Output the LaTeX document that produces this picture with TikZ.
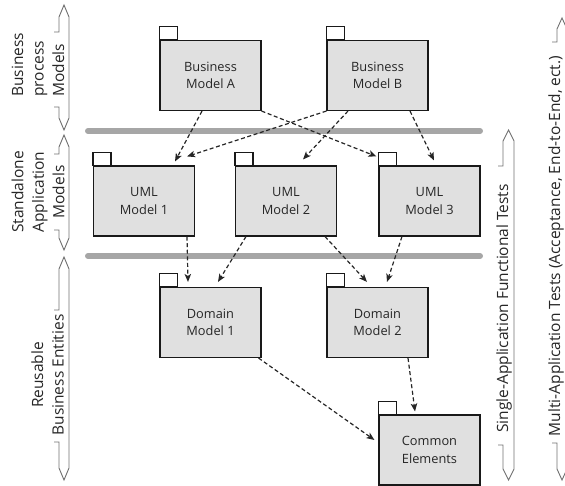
\documentclass[tikz,border=0pt]{standalone}
\usepackage{fontspec}
\setmainfont{Open Sans}
\usetikzlibrary{arrows.meta,calc}

\definecolor{boxfill}{HTML}{E0E0E0}
\definecolor{barcol}{HTML}{A6A6A6}
\definecolor{inkgray}{HTML}{262626}
\definecolor{lanecol}{HTML}{707070}

\begin{document}
\begin{tikzpicture}[x=1pt,y=-1pt,
  pkg/.style={draw=black!90, line width=1.1pt, fill=boxfill,
    minimum width=101pt, minimum height=70pt, inner sep=0pt, align=center,
    font=\fontsize{12.8}{17.5}\selectfont, text=inkgray},
  pkgtab/.style={draw=black!90, line width=1.1pt, fill=white},
  dep/.style={draw=black!85, line width=1.2pt, dash pattern=on 4pt off 2.6pt,
    -{Stealth[length=8pt,width=6.5pt,inset=2pt]}},
  sepbar/.style={draw=barcol, line width=6pt, line cap=round},
  lane/.style={draw=lanecol, line width=0.9pt, line join=miter},
  lanetext/.style={font=\fontsize{15.5}{20.5}\selectfont, text=inkgray,
    rotate=90, inner sep=0pt}
]
\useasboundingbox (0,0) rectangle (565,486);

% layer separators
\draw[sepbar] (88,131) -- (480,131);
\draw[sepbar] (88,256) -- (480,256);

% packages
\node[pkg] (ba) at (210.5,75.5) {Business\\Model A};
\node[pkg] (bb) at (377.5,75.5) {Business\\Model B};
\node[pkg] (u1) at (144,201)    {UML\\Model 1};
\node[pkg] (u2) at (286,201)    {UML\\Model 2};
\node[pkg] (u3) at (429.5,201)  {UML\\Model 3};
\node[pkg] (d1) at (210.5,322.5) {Domain\\Model 1};
\node[pkg] (d2) at (377.5,322.5) {Domain\\Model 2};
\node[pkg] (ce) at (429.5,450)  {Common\\Elements};
\foreach \n in {ba,bb,u1,u2,u3,d1,d2,ce}
  \draw[pkgtab] (\n.north west) rectangle ++(18,-13);

% dependencies
\draw[dep] ($(ba.south)+(-8.5,0)$) -- ($(u1.north)+(31,-4)$);
\draw[dep] (ba.south east) -- ($(u3.north west)+(-2,-9)$);
\draw[dep] (bb.south west) -- ($(u1.north east)+(-8,-9)$);
\draw[dep] ($(bb.south)+(-29.5,0)$) -- ($(u2.north)+(17,-6)$);
\draw[dep] ($(bb.south)+(32.5,0)$) -- ($(u3.north)+(4.5,-5)$);
\draw[dep] ($(u1.south)+(43,0)$) -- ($(d1.north)+(-22.5,-5)$);
\draw[dep] ($(u2.south)+(-40,0)$) -- ($(d1.north)+(7.5,-5)$);
\draw[dep] ($(u2.south)+(39,0)$) -- ($(d2.north)+(-10.5,-5)$);
\draw[dep] ($(u3.south)+(-27.5,0)$) -- ($(d2.north)+(9.5,-5)$);
\draw[dep] ($(d1.south east)+(-3,0)$) -- ($(ce.west)+(-4,-10)$);
\draw[dep] ($(d2.south)+(30.5,0)$) -- ($(ce.north)+(-14.5,-3)$);

% layer brackets on the left
\draw[lane] (54,32) -- (59,32) -- (59,17) -- (64,5) -- (69,17) -- (69,118)
  -- (64,130) -- (59,118) -- (59,107) -- (54,107);
\draw[lane] (54,154) -- (59,154) -- (59,147) -- (64,135) -- (69,147) -- (69,238)
  -- (64,250) -- (59,238) -- (59,230) -- (54,230);
\draw[lane] (54,310) -- (59,310) -- (59,269) -- (64,257) -- (69,269) -- (69,468)
  -- (64,480) -- (59,468) -- (59,442) -- (54,442);
\node[lanetext, align=left, anchor=west] (lbp) at (38,97) {Business\\process\\Models};
\node[lanetext, align=center] (lsa) at (38,192) {Standalone\\Application\\Models};
\node[lanetext, align=center] (lrb) at (47.5,375) {Reusable\\Business Entities};

% test scopes on the right
\draw[lane] (498,166) -- (503,166) -- (503,141) -- (508.5,130) -- (514,141)
  -- (514,469) -- (508.5,480) -- (503,469) -- (503,445) -- (498,445);
\draw[lane] (552,42) -- (557,42) -- (557,29) -- (562,18) -- (567,29)
  -- (567,469) -- (562,480) -- (557,469) -- (557,443) -- (552,443);
\node[lanetext] (tsa) at (504,308.5) {Single-Application Functional Tests};
\node[lanetext] (tma) at (556,246) {Multi-Application Tests (Acceptance, End-to-End, ect.)};
\end{tikzpicture}
\end{document}
